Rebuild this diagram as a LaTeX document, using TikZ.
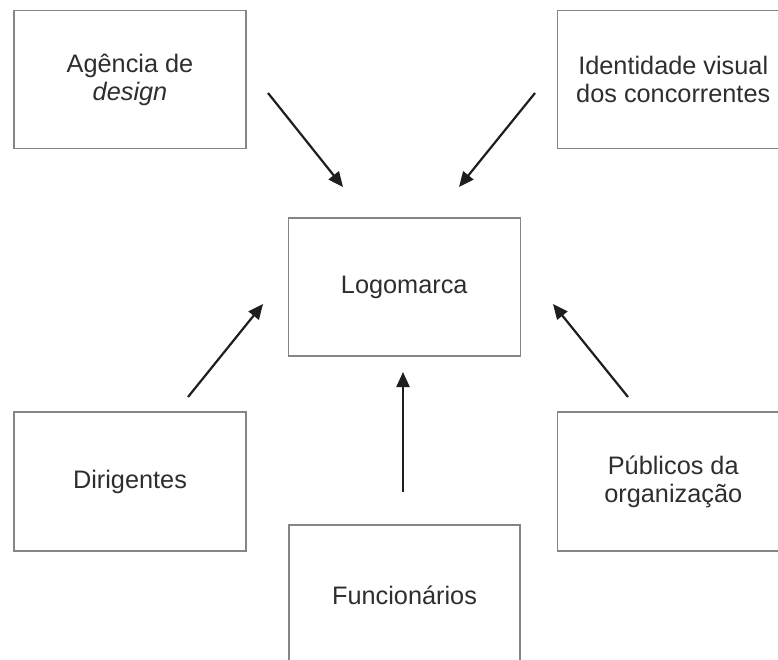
\documentclass[tikz,border=0pt]{standalone}
\usepackage{fontspec}
\setmainfont{Liberation Sans}
\usetikzlibrary{arrows.meta}
\definecolor{boxgray}{HTML}{858585}
\definecolor{textgray}{HTML}{2E2E2E}
\definecolor{arrowblack}{HTML}{1E1E1E}
\begin{document}
\begin{tikzpicture}[x=1pt,y=1pt,
  box/.style={draw=boxgray, line width=1.5pt, inner sep=0pt, align=center,
    minimum width=232pt, minimum height=138pt,
    font=\fontsize{25.3}{28}\selectfont, text=textgray},
  arr/.style={draw=arrowblack, line width=2.2pt, -{Triangle[length=15pt,width=13pt]}}]
\useasboundingbox (0,0) rectangle (778,659);
\clip (0,0) rectangle (778,659);
\fill[white] (0,0) rectangle (778,659);

\node[box] (agencia) at (130,579.5) {Agência de\\\textit{design}};
\node[box] (identidade) at (673.25,579.5) {Identidade visual\\dos concorrentes};
\node[box] (logo) at (404.25,372) {Logomarca};
\node[box, minimum height=139pt] (dirigentes) at (130,177.5) {Dirigentes};
\node[box, minimum height=139pt] (publicos) at (673.25,177.5) {Públicos da\\organização};
\node[box, minimum width=231pt, minimum height=140pt] (funcionarios) at (404.5,64) {Funcionários};

\coordinate (a1s) at (268,566);  \coordinate (a1e) at (343,472);
\coordinate (a2s) at (535,566);  \coordinate (a2e) at (459,472);
\coordinate (a3s) at (188,262);  \coordinate (a3e) at (263,355);
\coordinate (a4s) at (628,262);  \coordinate (a4e) at (553,355);
\coordinate (a5s) at (403,167);  \coordinate (a5e) at (403,287);

\draw[arr] (a1s) -- (a1e);
\draw[arr] (a2s) -- (a2e);
\draw[arr] (a3s) -- (a3e);
\draw[arr] (a4s) -- (a4e);
\draw[arr] (a5s) -- (a5e);
\end{tikzpicture}
\end{document}
